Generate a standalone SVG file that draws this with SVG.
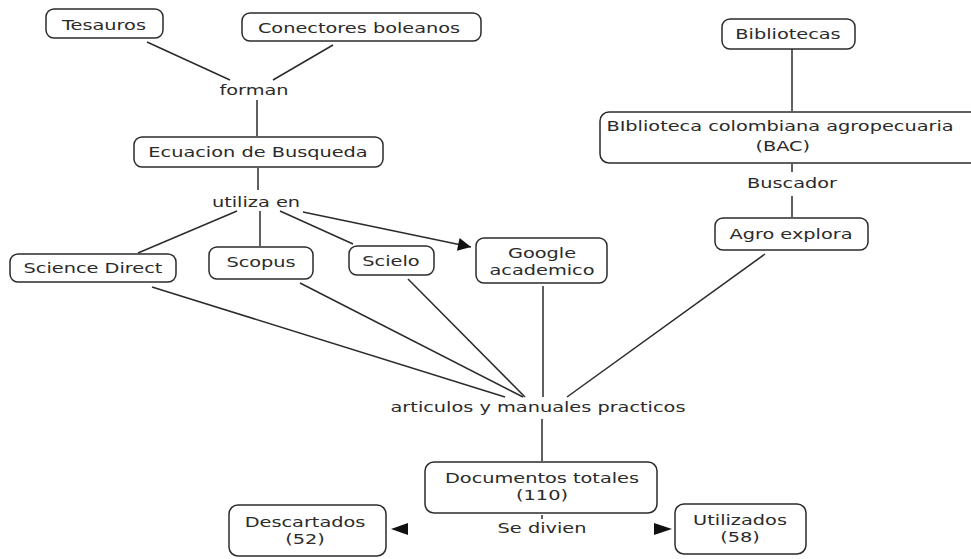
<svg xmlns="http://www.w3.org/2000/svg" width="971" height="559" viewBox="0 0 971 559">
<defs>
<style>
.box{fill:#fff;stroke:#2b2b2b;stroke-width:1.5}
.t{font-family:"DejaVu Sans",Verdana,sans-serif;font-size:14px;fill:#2b2b2b;text-anchor:middle}
.c{stroke:#2b2b2b;stroke-width:1.5;fill:none}
</style>
<marker id="ah" viewBox="0 0 10 10" refX="10" refY="5" markerWidth="15" markerHeight="13" markerUnits="userSpaceOnUse" orient="auto">
<path d="M0,0 L10,5 L0,10 z" fill="#111"/>
</marker>
</defs>
<rect width="971" height="559" fill="#fff"/>
<g id="connectors">
<line class="c" x1="147" y1="42" x2="230" y2="80"/>
<line class="c" x1="333" y1="45" x2="273" y2="80"/>
<line class="c" x1="257" y1="100" x2="257" y2="136"/>
<line class="c" x1="258" y1="168" x2="258" y2="190"/>
<line class="c" x1="237" y1="211" x2="138" y2="253"/>
<line class="c" x1="260" y1="211" x2="260" y2="246"/>
<line class="c" x1="280" y1="211" x2="353" y2="244"/>
<line class="c" x1="303" y1="212" x2="471" y2="247" stroke-width="2" marker-end="url(#ah)"/>
<line class="c" x1="792" y1="49" x2="792" y2="111"/>
<line class="c" x1="792" y1="164" x2="792" y2="172"/>
<line class="c" x1="792" y1="196" x2="792" y2="217"/>
<line class="c" x1="152" y1="287" x2="505" y2="397"/>
<line class="c" x1="300" y1="283" x2="523" y2="397"/>
<line class="c" x1="408" y1="279" x2="525" y2="397"/>
<line class="c" x1="543" y1="286" x2="543" y2="397"/>
<line class="c" x1="765" y1="254" x2="567" y2="397"/>
<line class="c" x1="542" y1="419" x2="542" y2="461"/>
<line class="c" x1="542" y1="515" x2="542" y2="519"/>
<path d="M408,523 L391,529 L408,535 z" fill="#111"/>
<path d="M654,523 L672,529 L654,535 z" fill="#111"/>
</g>
<g id="tesauros">
<rect class="box" x="46" y="9" width="117" height="29" rx="8"/>
<text class="t" transform="translate(104,30) scale(1.38,1)">Tesauros</text>
</g>
<g id="conectores">
<rect class="box" x="242" y="13" width="239" height="28" rx="8"/>
<text class="t" transform="translate(359,33) scale(1.38,1)">Conectores boleanos</text>
</g>
<g id="forman">
<text class="t" transform="translate(254,95) scale(1.38,1)">forman</text>
</g>
<g id="ecuacion">
<rect class="box" x="134" y="137" width="249" height="30" rx="8"/>
<text class="t" transform="translate(258,157) scale(1.38,1)">Ecuacion de Busqueda</text>
</g>
<g id="utiliza">
<text class="t" transform="translate(256,207) scale(1.38,1)">utiliza en</text>
</g>
<g id="science">
<rect class="box" x="10" y="254" width="166" height="28" rx="8"/>
<text class="t" transform="translate(93,273) scale(1.38,1)">Science Direct</text>
</g>
<g id="scopus">
<rect class="box" x="209" y="247" width="104" height="32" rx="8"/>
<text class="t" transform="translate(261,267) scale(1.38,1)">Scopus</text>
</g>
<g id="scielo">
<rect class="box" x="349" y="246" width="85" height="29" rx="8"/>
<text class="t" transform="translate(391,266) scale(1.38,1)">Scielo</text>
</g>
<g id="google">
<rect class="box" x="476" y="238" width="131" height="45" rx="8"/>
<text class="t" transform="translate(542,258) scale(1.38,1)"><tspan x="0" y="0">Google</tspan><tspan x="0" y="17">academico</tspan></text>
</g>
<g id="bibliotecas">
<rect class="box" x="722" y="19" width="133" height="30" rx="8"/>
<text class="t" transform="translate(788,39) scale(1.38,1)">Bibliotecas</text>
</g>
<g id="bac">
<rect class="box" x="600" y="112" width="390" height="51" rx="9"/>
<text class="t" transform="translate(780,131) scale(1.38,1)"><tspan x="0" y="0">BIblioteca colombiana agropecuaria</tspan><tspan x="2" y="20">(BAC)</tspan></text>
</g>
<g id="buscador">
<text class="t" transform="translate(792,188) scale(1.38,1)">Buscador</text>
</g>
<g id="agro">
<rect class="box" x="715" y="218" width="153" height="32" rx="8"/>
<text class="t" transform="translate(791,239) scale(1.38,1)">Agro explora</text>
</g>
<g id="articulos">
<text class="t" transform="translate(538,412) scale(1.38,1)">articulos y manuales practicos</text>
</g>
<g id="documentos">
<rect class="box" x="425" y="462" width="232" height="51" rx="9"/>
<text class="t" transform="translate(542,483) scale(1.38,1)"><tspan x="0" y="0">Documentos totales</tspan><tspan x="0" y="17">(110)</tspan></text>
</g>
<g id="sedivien">
<text class="t" transform="translate(542,533) scale(1.38,1)">Se divien</text>
</g>
<g id="descartados">
<rect class="box" x="229" y="505" width="157" height="51" rx="9"/>
<text class="t" transform="translate(305,527) scale(1.38,1)"><tspan x="0" y="0">Descartados</tspan><tspan x="0" y="17">(52)</tspan></text>
</g>
<g id="utilizados">
<rect class="box" x="675" y="504" width="131" height="50" rx="9"/>
<text class="t" transform="translate(740,525) scale(1.38,1)"><tspan x="0" y="0">Utilizados</tspan><tspan x="0" y="17">(58)</tspan></text>
</g>
</svg>
